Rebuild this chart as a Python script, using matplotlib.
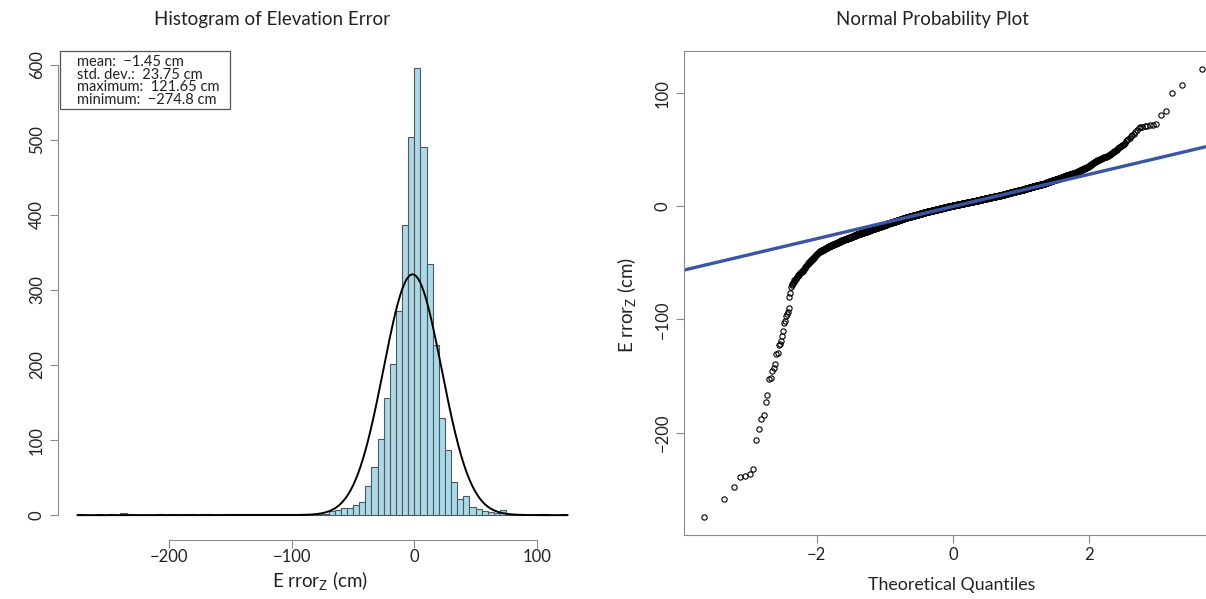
import matplotlib
matplotlib.use("Agg")
import matplotlib.pyplot as plt
from matplotlib.patches import Rectangle
import numpy as np
from statistics import NormalDist

plt.rcParams["font.family"] = ["Lato", "DejaVu Sans"]
plt.rcParams["mathtext.default"] = "regular"

# histogram bins (cm) and counts
binWidth = 5
binStart = -275
binEnd = 125
coreStart = -70   # first bin of the dense part
coreCounts = [5, 7, 10, 9, 14, 17, 39, 64, 101, 156, 202, 272, 386, 504,
              596, 491, 334, 227, 130, 87, 44, 22, 26, 11, 8, 5, 4, 3]

# single outliers
lowTail = [-274.8, -258.5, -247.8, -239.3, -238.7, -236.9, -232.5, -206.7,
           -196.7, -188.0, -184.3, -172.7, -166.8, -152.9, -151.4, -145.5,
           -142.6, -139.0, -130.7, -129.5, -122.7, -121.3, -118.9, -114.8,
           -110.0, -103.5, -101.2, -97.3, -95.2, -93.2, -89.9, -80.5, -76.6,
           -71.6]
highTail = [70.2, 70.6, 71.0, 71.3, 71.8, 72.3, 72.8, 81.0, 84.3, 100.0,
            107.1, 121.65]

statMean = -1.45
statSd = 23.75
statMax = 121.65
statMin = -274.8

# rebuild the sample from the bin counts
core = []
for i, n in enumerate(coreCounts):
    lo = coreStart + i * binWidth
    core += [lo + (k + 0.5) / n * binWidth for k in range(n)]
errors = np.sort(np.array(lowTail + core + highTail))
N = len(errors)

W, H = 1206, 599
fig = plt.figure(figsize=(W / 100, H / 100), dpi=100)
grey = "#8a8a8a"
ink = "#222222"

# ---------------- histogram ----------------
ax1 = fig.add_axes([58 / W, 1 - 533 / H, 529 / W, 483 / H])
bins = np.arange(binStart, binEnd + binWidth, binWidth)
counts, _, _ = ax1.hist(errors, bins=bins, color="#add8e6",
                        edgecolor="#4a5a60", linewidth=0.8)
xs = np.linspace(binStart, binEnd, 600)
dens = np.exp(-0.5 * ((xs - statMean) / statSd) ** 2) / (statSd * np.sqrt(2 * np.pi))
ax1.plot(xs, dens * N * binWidth, color="black", lw=1.4)

span = binEnd - binStart
ax1.set_xlim(binStart - 0.04 * span, binEnd + 0.04 * span)
ax1.set_ylim(-0.04 * counts.max(), 1.04 * counts.max())
ax1.set_xticks([-200, -100, 0, 100])
ax1.set_xticklabels(["\u2212200", "\u2212100", "0", "100"])
ax1.set_yticks(range(0, 700, 100))
for lab in ax1.get_yticklabels():
    lab.set_rotation(90)
    lab.set_va("center")
ax1.spines["top"].set_visible(False)
ax1.spines["right"].set_visible(False)
ax1.spines["left"].set_bounds(0, 600)
ax1.spines["bottom"].set_bounds(-200, 100)
ax1.spines["bottom"].set_position(("outward", 5))
for s in ["left", "bottom"]:
    ax1.spines[s].set_color(grey)
ax1.tick_params(axis="both", length=5.5, color=grey, labelsize=12, labelcolor=ink)
ax1.tick_params(axis="y", pad=4)
ax1.tick_params(axis="x", pad=1)

# legend-like box with the summary statistics
box = Rectangle((60 / W, 1 - 109 / H), 170 / W, 58 / H, transform=fig.transFigure,
                fc="white", ec="#555555", lw=0.9, zorder=5)
fig.patches.append(box)
statText = ("mean:  \u22121.45 cm\nstd. dev.:  23.75 cm\n"
            "maximum:  121.65 cm\nminimum:  \u2212274.8 cm")
fig.text(77 / W, 1 - 81 / H, statText, va="center", ha="left",
         fontsize=10.5, linespacing=0.86, color=ink, zorder=6)

fig.text(272 / W, 1 - 20 / H, "Histogram of Elevation Error", ha="center",
         va="center", fontsize=13.5, color=ink)
fig.text(320 / W, 1 - 580 / H, "E rror$_Z$ (cm)", ha="center", va="center",
         fontsize=13.5, color=ink)

# ---------------- normal probability plot ----------------
ax2 = fig.add_axes([684 / W, 1 - 535 / H, 538 / W, 484 / H])
nd = NormalDist()
theo = np.array([nd.inv_cdf((i + 0.5) / N) for i in range(N)])
ax2.plot(theo, errors, "o", mfc="none", mec="black", ms=3.8, mew=0.8)

q1, q3 = np.percentile(errors, [25, 75])
z1, z3 = nd.inv_cdf(0.25), nd.inv_cdf(0.75)
ax2.axline((z1, q1), (z3, q3), color="#3b55a5", lw=2.4)
ax2.margins(x=0.04, y=0.04)

ax2.set_xticks([-2, 0, 2])
ax2.set_xticklabels(["\u22122", "0", "2"])
ax2.set_yticks([-200, -100, 0, 100])
ax2.set_yticklabels(["\u2212200", "\u2212100", "0", "100"])
for lab in ax2.get_yticklabels():
    lab.set_rotation(90)
    lab.set_va("center")
for s in ax2.spines.values():
    s.set_color(grey)
ax2.tick_params(axis="both", length=5.5, color=grey, labelsize=12, labelcolor=ink)
ax2.tick_params(axis="y", pad=4)
ax2.tick_params(axis="x", pad=3)

fig.text(932 / W, 1 - 20 / H, "Normal Probability Plot", ha="center",
         va="center", fontsize=13.5, color=ink)
fig.text(952 / W, 1 - 585 / H, "Theoretical Quantiles", ha="center",
         va="center", fontsize=12.8, color=ink)
fig.text(627 / W, 1 - 305 / H, "E rror$_Z$ (cm)", ha="center", va="center",
         rotation=90, fontsize=13.5, color=ink)

fig.savefig("out.png", dpi=100)
